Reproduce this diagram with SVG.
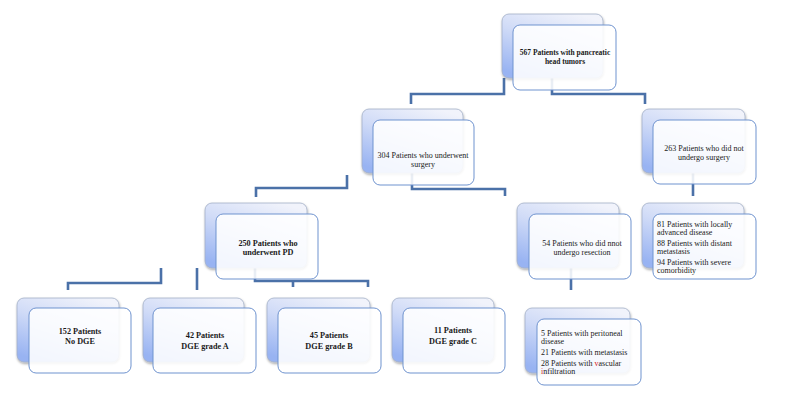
<svg xmlns="http://www.w3.org/2000/svg" width="790" height="405" viewBox="0 0 790 405">
<defs>
<linearGradient id="bg" x1="0.75" y1="0" x2="0.25" y2="1">
<stop offset="0" stop-color="#f1f3fb"/>
<stop offset="0.45" stop-color="#d0dbf7"/>
<stop offset="1" stop-color="#98b3f2"/>
</linearGradient>
<filter id="sh" x="-10%" y="-10%" width="125%" height="130%">
<feDropShadow dx="0.5" dy="1.5" stdDeviation="1.2" flood-color="#000" flood-opacity="0.35"/>
</filter>
<style>
.back{fill:url(#bg);stroke:#a3b0c8;stroke-width:0.8;filter:url(#sh)}
.front{fill:#ffffff;fill-opacity:0.88;stroke:#6f93cf;stroke-width:1}
.c{fill:none;stroke:#4b71a8;stroke-width:2.6}
text{font-family:"Liberation Serif","DejaVu Serif",serif;font-size:8px;fill:#1a1a1a}
.b{font-weight:bold;font-size:7.5px}
.bb{font-weight:bold;font-size:8.2px}
.m{text-anchor:middle}
.r{fill:#d62020}
</style>
</defs>
<rect width="790" height="405" fill="#ffffff"/>
<g id="connectors">
<path class="c" d="M504,78 V94 H411 V104"/>
<path class="c" d="M552,78 V94 H645 V104"/>
<path class="c" d="M412,173 V189 H505 V196"/>
<path class="c" d="M347,175 V188 H256 V197"/>
<path class="c" d="M693,173 V196"/>
<path class="c" d="M255,268 V281 H368 V287"/>
<path class="c" d="M293,281 V287"/>
<path class="c" d="M161,268 V283 H68 V290"/>
<path class="c" d="M197,268 V290"/>
<path class="c" d="M571,268 V290"/>
</g>
<g id="n567">
<rect class="back" x="502" y="14" width="101" height="64" rx="7"/>
<rect class="front" x="513" y="25" width="103" height="65" rx="7"/>
<text class="m b" x="565" y="55">567 Patients with pancreatic</text>
<text class="m b" x="565" y="64">head tumors</text>
</g>
<g id="n304">
<rect class="back" x="362" y="109" width="101" height="64" rx="7"/>
<rect class="front" x="373" y="120" width="101" height="65" rx="7"/>
<text class="m" x="423" y="158">304 Patients who underwent</text>
<text class="m" x="423" y="167">surgery</text>
</g>
<g id="n263">
<rect class="back" x="642" y="109" width="103" height="64" rx="7"/>
<rect class="front" x="653" y="120" width="103" height="64" rx="7"/>
<text class="m" x="704" y="151">263 Patients who did not</text>
<text class="m" x="704" y="160">undergo surgery</text>
</g>
<g id="n250">
<rect class="back" x="205" y="203" width="102" height="65" rx="7"/>
<rect class="front" x="216" y="214" width="102" height="65" rx="7"/>
<text class="m bb" x="268" y="246">250 Patients who</text>
<text class="m bb" x="268" y="255">underwent PD</text>
</g>
<g id="n54">
<rect class="back" x="517" y="203" width="102" height="65" rx="7"/>
<rect class="front" x="529" y="214" width="102" height="65" rx="7"/>
<text class="m" x="582" y="246">54 Patients who did nnot</text>
<text class="m" x="582" y="255">undergo resection</text>
</g>
<g id="n81">
<rect class="back" x="642" y="203" width="102" height="65" rx="7"/>
<rect class="front" x="653" y="214" width="103" height="65" rx="7"/>
<text x="657" y="227">81 Patients with locally</text>
<text x="657" y="235">advanced disease</text>
<text x="657" y="246">88 Patients with distant</text>
<text x="657" y="254">metastasis</text>
<text x="657" y="265">94 Patients with severe</text>
<text x="657" y="273">comorbidity</text>
</g>
<g id="n152">
<rect class="back" x="17" y="298" width="102" height="64" rx="7"/>
<rect class="front" x="29" y="308" width="102" height="65" rx="7"/>
<text class="m bb" x="80" y="334">152 Patients</text>
<text class="m bb" x="80" y="344">No DGE</text>
</g>
<g id="n42">
<rect class="back" x="143" y="298" width="101" height="64" rx="7"/>
<rect class="front" x="153" y="308" width="103" height="65" rx="7"/>
<text class="m bb" x="205" y="338">42 Patients</text>
<text class="m bb" x="205" y="349">DGE grade A</text>
</g>
<g id="n45">
<rect class="back" x="267" y="298" width="103" height="64" rx="7"/>
<rect class="front" x="278" y="308" width="103" height="65" rx="7"/>
<text class="m bb" x="329" y="338">45 Patients</text>
<text class="m bb" x="329" y="349">DGE grade B</text>
</g>
<g id="n11">
<rect class="back" x="392" y="298" width="102" height="64" rx="7"/>
<rect class="front" x="403" y="308" width="102" height="65" rx="7"/>
<text class="m bb" x="453" y="333">11 Patients</text>
<text class="m bb" x="453" y="344">DGE grade C</text>
</g>
<g id="n5">
<rect class="back" x="525" y="308" width="105" height="65" rx="7"/>
<rect class="front" x="537" y="319" width="104" height="66" rx="7"/>
<text x="541" y="336">5 Patients with peritoneal</text>
<text x="541" y="344">disease</text>
<text x="541" y="355">21 Patients with metastasis</text>
<text x="541" y="366">28 Patients with <tspan class="r">v</tspan>ascular</text>
<text x="541" y="374"><tspan class="r">i</tspan>nfiltration</text>
</g>
</svg>
